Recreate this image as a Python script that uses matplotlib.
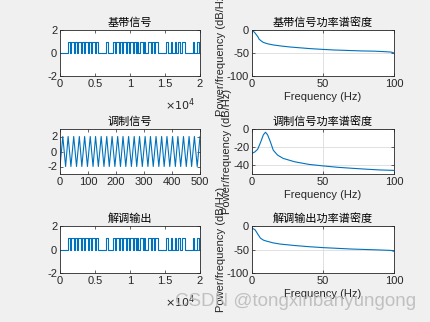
import numpy as np
import matplotlib
matplotlib.use('Agg')
import matplotlib.pyplot as plt

plt.rcParams['font.family'] = ['Liberation Sans', 'Noto Sans CJK SC']
plt.rcParams['axes.unicode_minus'] = False

# Базовая последовательность бит (по 200 отсчётов на бит)
bit_len = 200
bits = ("0000001011" "0101101011" "0101101000" "0001000010" "1101011010"
        "1101010110" "1001101011" "0000001001" "0010110110" "0000010010")
demod_bits = bits

# Модулированный сигнал: экстремумы несущей
carrier_t = [0, 10, 20, 29, 39, 49, 59, 69, 78, 88, 98, 108, 118, 127, 137, 147,
             157, 167, 176, 186, 196, 206, 216, 225, 235, 245, 255, 265, 274, 284,
             294, 304, 314, 323, 333, 343, 353, 363, 372, 382, 392, 402, 412, 421,
             431, 441, 451, 461, 470, 480, 490, 500]
carrier_v = [-2, 2] * 26

# Спектральные плотности мощности (дБ/Гц)
f_base = [0, 1, 2, 3, 4.2, 5, 6.6, 8, 11, 15, 21, 27, 33, 41, 49, 58, 68, 77, 86, 93, 98, 100]
psd_base = [-1.5, -3, -6, -10, -15, -20, -24, -27, -30, -32.5, -35, -37, -38.5, -40.5,
            -42, -43.5, -44.5, -45.5, -46, -47, -48, -50]
f_mod = [0, 2, 4, 6, 8, 9.5, 11, 13, 15, 18, 22, 30, 40, 50, 60, 70, 80, 90, 100]
psd_mod = [-27, -25.5, -22.5, -15, -6.5, -3.6, -6.5, -14.5, -23.6, -29, -32.7, -36.4,
           -39.3, -41, -42.5, -43.6, -44.6, -45.5, -46]
f_dem = [0, 1, 2, 3, 4, 6, 8, 10, 15, 20, 30, 40, 50, 60, 70, 80, 90, 98, 100]
psd_dem = [-5, -6, -7.7, -12, -17, -26, -30, -32, -36, -38.5, -41.5, -44, -46, -47.5,
           -49, -50, -51, -52, -54]

time_ticks = [0, 5000, 10000, 15000, 20000]
time_labels = ['0', '0.5', '1', '1.5', '2']

line_color = '#0072BD'
axis_color = '#262626'
fs = 8

def to_steps(b):
    vals = [int(c) for c in b]
    t = np.arange(len(vals) + 1) * bit_len
    return t, vals + [vals[-1]]

fig = plt.figure(figsize=(4.31, 3.22), dpi=100)
fig.patch.set_facecolor('#f0f0f0')

lefts = [60 / 431, 252 / 431]
widths = [140 / 431, 142 / 431]
bottoms = [1 - 76 / 322, 1 - 174 / 322, 1 - 273 / 322]
heights = [46 / 322, 45 / 322, 47 / 322]

def style(ax):
    ax.tick_params(direction='in', length=2, width=0.5, labelsize=fs,
                   colors=axis_color, top=True, right=True, pad=2)
    for s in ax.spines.values():
        s.set_linewidth(0.6)
        s.set_color(axis_color)

axes = [[fig.add_axes([lefts[c], bottoms[r], widths[c], heights[r]]) for c in range(2)]
        for r in range(3)]

# Базовый сигнал и выход демодулятора
for r, (b, title) in zip([0, 2], [(bits, '基带信号'), (demod_bits, '解调输出')]):
    ax = axes[r][0]
    t, v = to_steps(b)
    ax.plot(t, v, color=line_color, lw=0.8, drawstyle='steps-post')
    ax.set_xlim(0, 20000)
    ax.set_ylim(-2, 2)
    ax.set_yticks([-2, 0, 2])
    ax.set_xticks(time_ticks)
    ax.set_xticklabels(time_labels)
    ax.text(0.965, -0.62, r'$\times10^4$', transform=ax.transAxes, ha='right',
            va='center', fontsize=fs, color=axis_color)
    ax.set_title(title, fontsize=fs, pad=3)

# Модулированный сигнал
ax = axes[1][0]
ax.plot(carrier_t, carrier_v, color=line_color, lw=0.8)
ax.set_xlim(0, 500)
ax.set_ylim(-3, 3)
ax.set_yticks([-2, 0, 2])
ax.set_xticks([0, 100, 200, 300, 400, 500])
ax.set_title('调制信号', fontsize=fs, pad=3)

# Спектры
psd_sets = [(f_base, psd_base, '基带信号功率谱密度', (-100, 0), [-100, -50, 0]),
            (f_mod, psd_mod, '调制信号功率谱密度', (-50, 0), [-40, -20, 0]),
            (f_dem, psd_dem, '解调输出功率谱密度', (-100, 0), [-100, -50, 0])]
for r, (f, p, title, ylim, yt) in enumerate(psd_sets):
    ax = axes[r][1]
    ax.plot(f, p, color=line_color, lw=0.8)
    ax.set_xlim(0, 100)
    ax.set_ylim(*ylim)
    ax.set_yticks(yt)
    ax.set_xticks([0, 50, 100])
    ax.grid(True, color='#dcdcdc', lw=0.6)
    ax.set_axisbelow(True)
    ax.set_title(title, fontsize=fs, pad=3)
    ax.set_xlabel('Frequency (Hz)', fontsize=fs, labelpad=2, color=axis_color)
    ax.set_ylabel('Power/frequency (dB/Hz)', fontsize=fs, labelpad=1, color=axis_color)

for row in axes:
    for ax in row:
        style(ax)

fig.text(0.405, 0.05, 'CSDN @tongxinbanyungong', fontsize=13.5, color='#b8b8b8',
         alpha=0.85)

plt.savefig('out.png', dpi=100, facecolor=fig.get_facecolor())
